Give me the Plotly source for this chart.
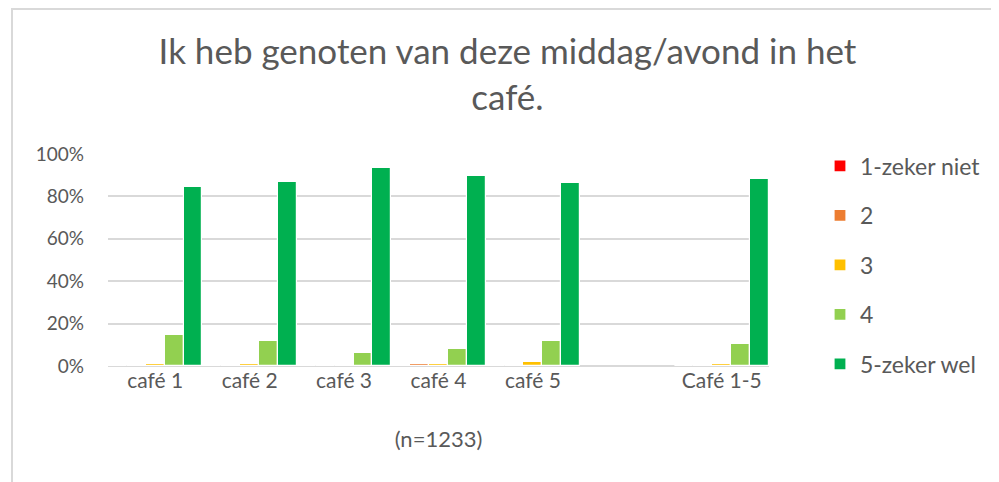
import plotly.graph_objects as go

# categories (the blank one is the gap before the total)
categories = ["café 1", "café 2", "café 3", "café 4", "café 5", " ", "Café 1-5"]
series_names = ["1-zeker niet", "2", "3", "4", "5-zeker wel"]
series_colors = ["#FF0000", "#ED7D31", "#FFC000", "#92D050", "#00B050"]

zeker_niet = [0.0, 0.0, 0.0, 0.0, 0.0, None, 0.0]
score_2 = [0.0, 0.0, 0.0, 0.010, 0.0, None, 0.0]
score_3 = [0.010, 0.009, 0.0, 0.010, 0.017, None, 0.009]
score_4 = [0.147, 0.116, 0.062, 0.080, 0.116, None, 0.104]
zeker_wel = [0.843, 0.867, 0.932, 0.895, 0.864, None, 0.880]

values = [zeker_niet, score_2, score_3, score_4, zeker_wel]

# page body adds 8px, so the figure is a bit smaller than the window
W, H = 991, 474
L, R, T, B = 100, 230, 146, 116
pw, ph = W - L - R, H - T - B

font = "Lato, 'Open Sans', sans-serif"
grey = "#595959"

fig = go.Figure()
legend_ids = ["legend", "legend2", "legend3", "legend4", "legend5"]
for name, color, vals, lg in zip(series_names, series_colors, values, legend_ids):
    fig.add_trace(go.Bar(
        x=categories,
        y=vals,
        name=name,
        legend=lg,
        showlegend=True,
        marker=dict(color=color, line=dict(color="white", width=1.2)),
    ))

# one legend per entry so the wide spacing of the original fits
legend_layout = {}
for i, lg in enumerate(legend_ids):
    centre = 158 + i * 49.5
    legend_layout[lg] = dict(
        x=(812 - L) / pw, xanchor="left",
        y=(H - B - centre) / ph, yanchor="middle",
        font=dict(family=font, size=23, color=grey),
        bgcolor="rgba(0,0,0,0)",
    )

# chart border (light grey frame, bottom edge is cut off)
fig.add_shape(
    type="rect", xref="paper", yref="paper",
    x0=(4 - L) / pw, x1=(985 - L) / pw,
    y0=(H - B - 520) / ph, y1=(H - B - 1) / ph,
    line=dict(color="#D9D9D9", width=2), fillcolor="rgba(0,0,0,0)",
)

fig.update_layout(
    width=W,
    height=H,
    margin=dict(l=L, r=R, t=T, b=B),
    paper_bgcolor="white",
    plot_bgcolor="white",
    showlegend=True,
    barmode="group",
    bargap=0,
    bargroupgap=0,
    title=dict(
        text="Ik heb genoten van deze middag/avond in het<br>café.",
        x=0.504, xanchor="center", xref="container",
        y=1 - 56 / H, yanchor="top", yref="container",
        font=dict(family=font, size=35, color=grey),
    ),
    font=dict(family=font, color=grey),
    **legend_layout,
)

fig.update_xaxes(
    type="category",
    categoryorder="array",
    categoryarray=categories,
    showgrid=False,
    showline=False,
    ticks="",
    tickfont=dict(family=font, size=21, color=grey),
    title=dict(text="(n=1233)", standoff=40, font=dict(family=font, size=22, color=grey)),
)
fig.update_yaxes(
    range=[0, 1],
    dtick=0.2,
    tickformat=".0%",
    showgrid=True,
    gridcolor="#D9D9D9",
    gridwidth=1.5,
    zeroline=True,
    zerolinecolor="#D9D9D9",
    zerolinewidth=1.5,
    showline=False,
    ticks="",
    ticklabelstandoff=23,
    tickfont=dict(family=font, size=19, color=grey),
)

fig.write_html("out.html")
